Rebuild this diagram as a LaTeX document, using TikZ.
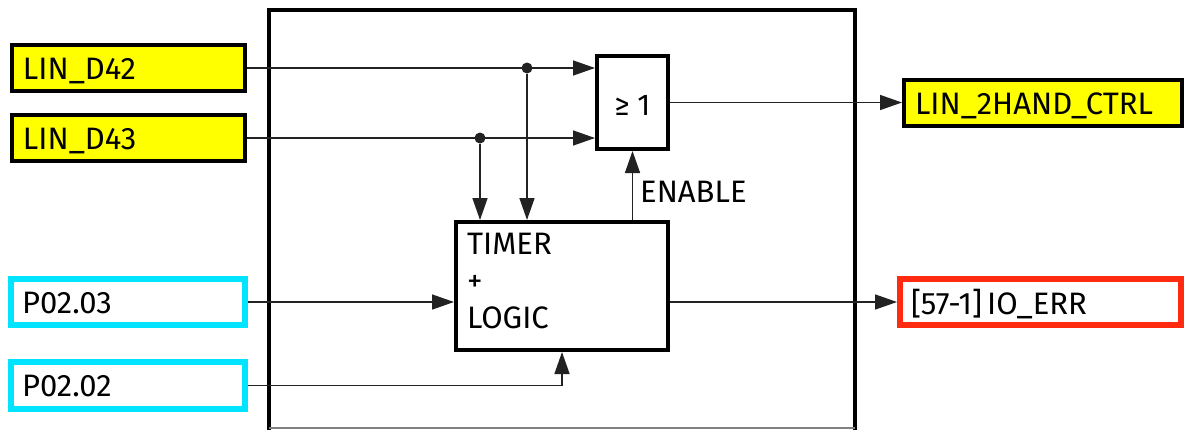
\documentclass[tikz,border=0pt]{standalone}
\usepackage{fontspec}
\setmainfont{Fira Sans}
\usetikzlibrary{arrows.meta,calc}
\definecolor{sigyellow}{HTML}{FFFF00}
\definecolor{sigcyan}{HTML}{00E4FF}
\definecolor{sigred}{HTML}{FF2A10}
\definecolor{wire}{HTML}{222222}
\tikzset{
  sigbox/.style={line width=4pt, minimum height=46pt, inner xsep=11pt, inner ysep=0pt,
    text height=22pt, text depth=0pt, align=left, font=\fontsize{31}{37}\selectfont},
  inyel/.style={sigbox, draw=black, fill=sigyellow, text width=211pt},
  incyan/.style={sigbox, draw=sigcyan, line width=6pt, text width=212pt},
  outyel/.style={sigbox, draw=black, fill=sigyellow, text width=256pt},
  outred/.style={sigbox, draw=sigred, line width=6pt, text width=259pt, inner xsep=11pt},
  blk/.style={draw=black, line width=4pt, inner sep=0pt},
  arr/.style={draw=wire, line width=1.5pt, -{Triangle[length=22pt,width=15pt]}},
  dot/.style={circle, fill=wire, inner sep=0pt, minimum size=11pt},
  lbl/.style={inner sep=0pt, font=\fontsize{31}{37}\selectfont}
}
\begin{document}
\begin{tikzpicture}[x=1pt,y=-1pt]
\useasboundingbox (0,0) rectangle (1185,429);
% device frame
\draw[line width=4pt] (269,430) -- (269,9.5) -- (855,9.5) -- (855,430);
\draw[gray, line width=1.5pt] (269,428) -- (855,428);
% input/output signal boxes
\node[inyel] (d42) at (128.5,68) {LIN\_D42};
\node[inyel] (d43) at (128.5,138) {LIN\_D43};
\node[incyan, minimum height=46pt] (p03) at (128,302) {P02.03};
\node[incyan, minimum height=47pt] (p02) at (128,385.5) {P02.02};
\node[outyel] (hand) at (1043,103) {LIN\_2HAND\_CTRL};
\node[outred, text height=24pt] (err) at (1040.5,302) {[57-1]\,IO\_ERR};
% function blocks
\node[blk, minimum width=71pt, minimum height=93pt, text height=25pt, text depth=0pt,
      font=\fontsize{30}{34}\selectfont] (or) at (632.5,102.5) {≥ 1};
\node[blk, minimum width=212pt, minimum height=128pt] (timer) at (562,286) {};
\node[lbl, anchor=north west, align=left] (timertxt) at ($(timer.north west)+(13,12.5)$) {TIMER\\+\\LOGIC};
% junctions
\node[dot] (j1) at (527,68) {};
\node[dot] (j2) at (480,138) {};
% connectors
\draw[arr] (d42.east) -- (d42.east -| or.west);
\draw[arr] (d43.east) -- (d43.east -| or.west);
\draw[arr] (j1) -- (j1 |- timer.north);
\draw[arr] (j2) -- (j2 |- timer.north);
\draw[arr] (or.east) -- (or.east -| hand.west);
\draw[arr] (or.south |- timer.north) -- (or.south);
\node[lbl, anchor=base west] (enable) at (640,202) {ENABLE};
\draw[arr] (p03.east) -- (p03.east -| timer.west);
\draw[arr] (timer.east |- err.west) -- (err.west);
\draw[arr] (p02.east) -| (timer.south);
\end{tikzpicture}
\end{document}
